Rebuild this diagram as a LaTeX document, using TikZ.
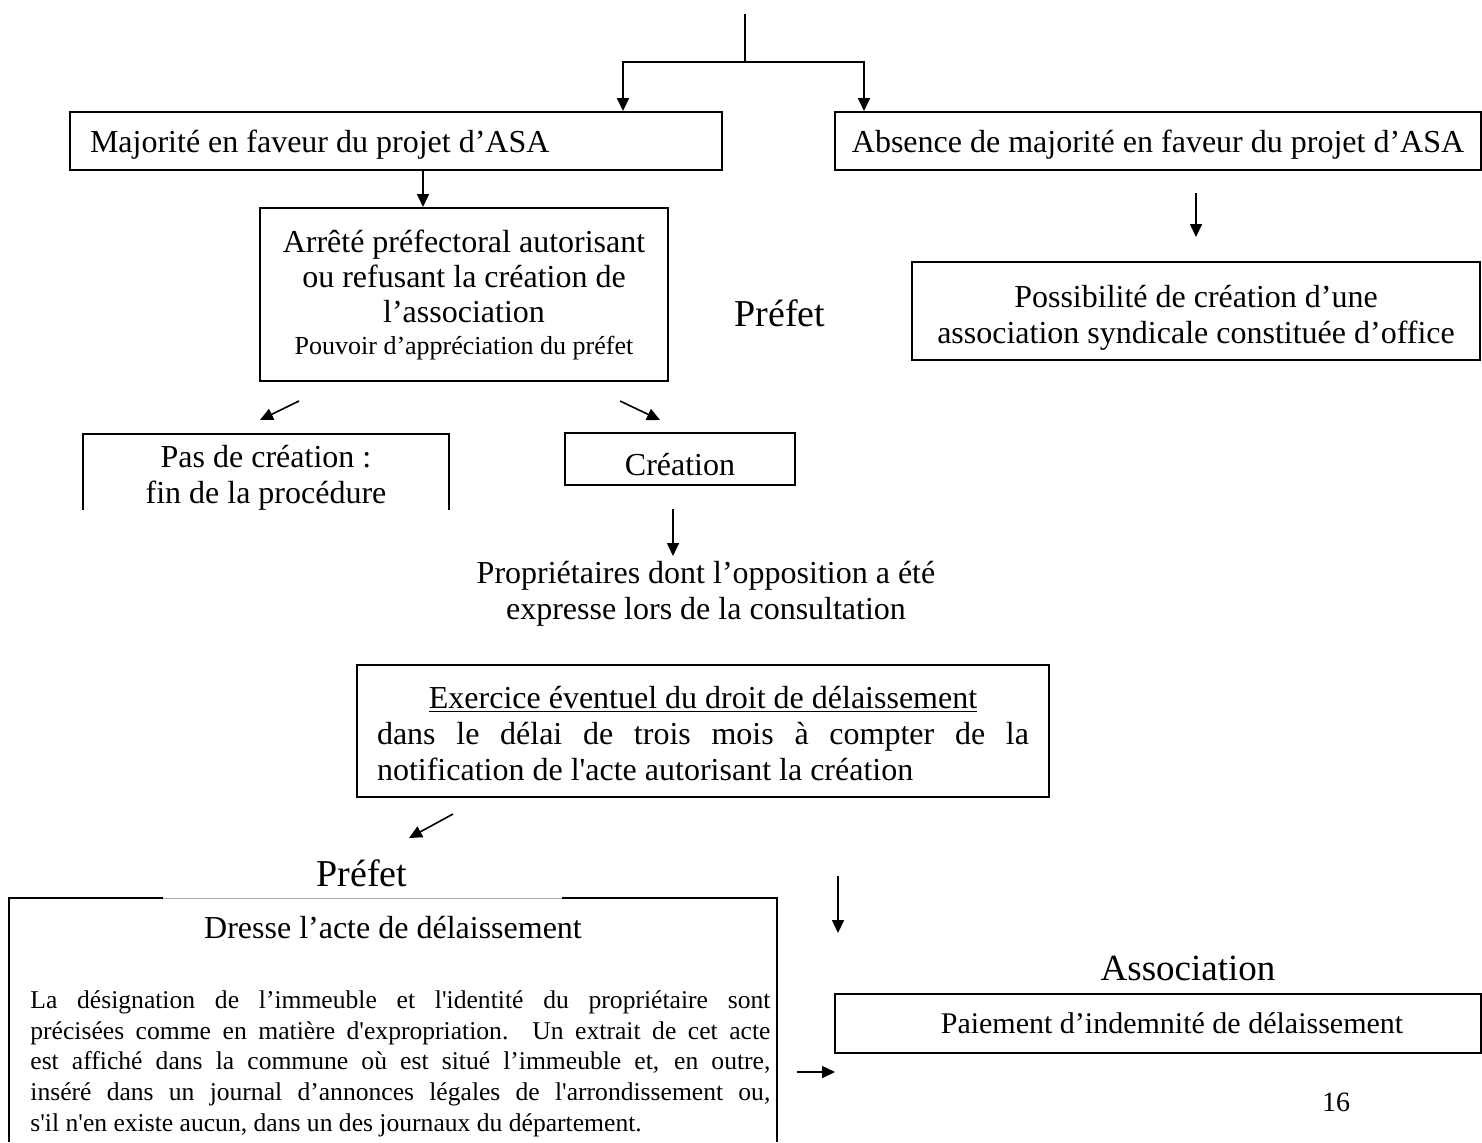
\documentclass[tikz,border=0pt]{standalone}
\usepackage{fontspec}
\setmainfont{Liberation Serif}[Ligatures=TeXOff]
\usetikzlibrary{arrows.meta,positioning}

\begin{document}
\begin{tikzpicture}[x=0.5pt, y=-0.5pt,
    box/.style={draw=black, line width=1pt, inner sep=0pt, align=center, font=\fontsize{16}{18}\selectfont},
    txt/.style={inner sep=0pt, align=center, font=\fontsize{16}{18}\selectfont},
    agent/.style={inner sep=0pt, font=\fontsize{19}{22}\selectfont},
    arr/.style={line width=0.8pt, -{Triangle[length=6.5pt, width=6pt]}},
    link/.style={line width=1pt}]

    \useasboundingbox (0,0) rectangle (1482,1142);

    % Outcome of the vote
    \node[box, minimum width=326pt, minimum height=29pt, text width=306pt, align=flush left] (maj) at (396,141) {\rule{0pt}{15pt}Majorité en faveur du projet d’ASA};
    \node[box, minimum width=323pt, minimum height=29pt] (abs) at (1158,141) {\rule{0pt}{15pt}Absence de majorité en faveur du projet d’ASA};

    % Top split
    \coordinate (start) at (745,14);
    \coordinate (split) at (745,62);
    \draw[link] (start) -- (split);
    \draw[arr, line width=1pt] (split) -| ([xshift=113.5pt]maj.north);
    \draw[arr, line width=1pt] (split) -| ([xshift=-147pt]abs.north);

    % Prefectoral decision
    \node[box, minimum width=204pt, minimum height=86.5pt] (arrete) at (464,294.5) {Arrêté préfectoral autorisant\\[-0.5pt] ou refusant la création de\\[-0.5pt] l’association\\[-2pt] {\fontsize{13}{15}\selectfont Pouvoir d’appréciation du préfet}};
    \node[agent] (prefet1) at (780,313) {Préfet};
    \draw[arr] ([xshift=-20.5pt]arrete.north |- maj.south) -- ([xshift=-20.5pt]arrete.north);

    % Association constituted ex officio
    \node[box, minimum width=284pt, minimum height=49pt] (poss) at (1196,311) {\rule{0pt}{17.5pt}Possibilité de création d’une\\ association syndicale constituée d’office};
    \draw[arr] ([yshift=-11pt]abs.south -| poss.north) -- ([yshift=12pt]poss.north);

    % Refusal / creation
    \node[txt, minimum width=183pt, minimum height=38pt] (pas) at (266,472) {\rule{0pt}{16.5pt}Pas de création :\\ fin de la procédure};
    \draw[link] (pas.south west) |- (pas.north east) -- (pas.south east);
    \node[box, minimum width=115pt, minimum height=26pt] (crea) at (680,459) {\rule{0pt}{16.5pt}Création};
    \coordinate (lfrom) at (299,401);
    \coordinate (lto) at (260,420);
    \coordinate (rfrom) at (620,401);
    \coordinate (rto) at (660,420);
    \draw[arr] (lfrom) -- (lto);
    \draw[arr] (rfrom) -- (rto);

    % Opposing owners
    \node[txt] (prop) at (706,594) {Propriétaires dont l’opposition a été\\ expresse lors de la consultation};
    \draw[arr] ([xshift=-3.5pt,yshift=-11.5pt]crea.south) -- ++(0,47);

    % Right of abandonment
    \node[box, minimum width=346pt, minimum height=66pt] (exer) at (703,731) {\parbox{326pt}{{\centering\rule{0pt}{13.5pt}\underline{Exercice éventuel du droit de délaissement}\par}dans le délai de trois mois à compter de la\linebreak notification de l'acte autorisant la création}};
    \coordinate (efrom) at (453,814);
    \coordinate (eto) at (409,838);
    \draw[arr] (efrom) -- (eto);

    % Deed drawn up by the prefect
    \node[agent] (prefet2) at (362,873) {Préfet};
    \node[txt] (dressetitle) at (393,928) {Dresse l’acte de délaissement};
    \node[txt, anchor=north west, font=\fontsize{12.8}{15.4}\selectfont] (dressetext) at (30,990) {\parbox{370pt}{La désignation de l’immeuble et l'identité du propriétaire sont\linebreak précisées comme en matière d'expropriation. Un extrait de cet acte\linebreak est affiché dans la commune où est situé l’immeuble et, en outre,\linebreak inséré dans un journal d’annonces légales de l'arrondissement ou,\linebreak s'il n'en existe aucun, dans un des journaux du département.}};
    \draw[link] (9,1142) |- (163,898);
    \draw[gray!70, line width=0.5pt] (163,898) -- (562,898);
    \draw[link] (562,898) -| (777,1142);

    % Indemnity paid by the association
    \node[agent, font=\fontsize{18.5}{22}\selectfont] (assoc) at (1188,968) {Association};
    \node[box, minimum width=323pt, minimum height=29.5pt, font=\fontsize{15}{18}\selectfont] (paie) at (1158,1023.5) {\hspace*{14pt}Paiement d’indemnité de délaissement};
    \coordinate (dfrom) at (838,876);
    \coordinate (dto) at (838,933);
    \draw[arr] (dfrom) -- (dto);
    \coordinate (hfrom) at (797,1072);
    \coordinate (hto) at (835,1072);
    \draw[arr] (hfrom) -- (hto);

    % Page number
    \node[inner sep=0pt, font=\fontsize{14}{16}\selectfont] (page) at (1336,1102) {16};

\end{tikzpicture}
\end{document}
